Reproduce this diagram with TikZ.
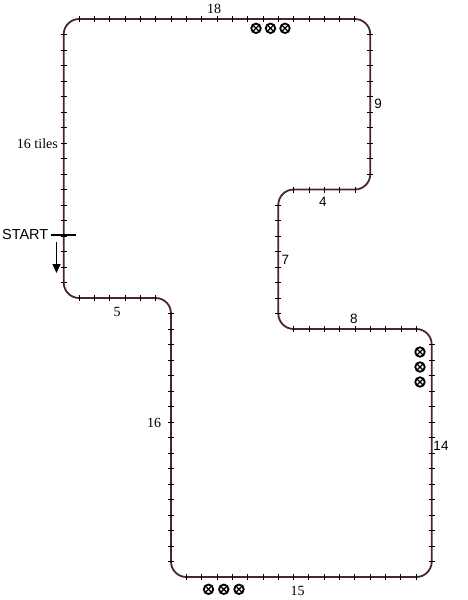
\documentclass[tikz,border=0pt]{standalone}
\usepackage{fontspec}
\setmainfont{Liberation Serif}
\setsansfont{Liberation Sans}
\usetikzlibrary{arrows.meta}
\definecolor{track}{RGB}{75,35,50}
\newcommand{\hticks}[4]{\foreach \i in {0,...,#4} \draw[tick] ({#2+\i*#3},{#1-3}) -- ({#2+\i*#3},{#1+3});}
\newcommand{\vticks}[4]{\foreach \i in {0,...,#4} \draw[tick] ({#1-3},{#2+\i*#3}) -- ({#1+3},{#2+\i*#3});}
\tikzset{
  tick/.style={black, line width=0.9pt},
  trackline/.style={track, line width=1.8pt, rounded corners=15.4pt},
  xc/.style={circle, draw=black, line width=1.8pt, minimum size=9.5pt, inner sep=0pt,
    path picture={\draw[line width=1.3pt] (path picture bounding box.center) ++(-2.8pt,-2.8pt) -- ++(5.6pt,5.6pt)
      (path picture bounding box.center) ++(-2.8pt,2.8pt) -- ++(5.6pt,-5.6pt);}},
  serifnum/.style={inner sep=0pt, font=\fontsize{14}{16}\selectfont},
  sansnum/.style={inner sep=0pt, font=\sffamily\fontsize{13.5}{16}\selectfont},
}
\begin{document}
\begin{tikzpicture}[x=1pt, y=-1pt]
\useasboundingbox (0,0) rectangle (468,600);
% track
\draw[trackline] (63.7,160) -- (63.7,19) -- (370.3,19) -- (370.3,189.5) -- (278.3,189.5)
  -- (278.3,329) -- (431.7,329) -- (431.7,577) -- (171,577) -- (171,298) -- (63.7,298) -- cycle;
% tile ticks
\hticks{19}{79}{15.33}{18}
\vticks{370.3}{34.5}{15.5}{9}
\hticks{189.5}{293.7}{15.33}{4}
\vticks{278.3}{205}{15.5}{7}
\hticks{329}{293.7}{15.33}{8}
\vticks{431.7}{344.5}{15.5}{14}
\hticks{577}{186.3}{15.33}{15}
\vticks{171}{313.5}{15.5}{16}
\hticks{298}{79}{15.33}{5}
\vticks{63.7}{34.5}{15.5}{16}
% crossed circles
\node[xc] (t1) at (256,28.3) {};
\node[xc] (t2) at (270.5,28.3) {};
\node[xc] (t3) at (285,28.3) {};
\node[xc] (r1) at (420,352) {};
\node[xc] (r2) at (420,367) {};
\node[xc] (r3) at (420,382) {};
\node[xc] (b1) at (208.5,589.3) {};
\node[xc] (b2) at (223.8,589.3) {};
\node[xc] (b3) at (239,589.3) {};
% labels
\node[serifnum] (l18) at (214,8.5) {18};
\node[sansnum] (l9) at (378,104) {9};
\node[serifnum, anchor=east] (ltiles) at (58,144) {16 tiles};
\node[sansnum] (l4) at (323,202) {4};
\node[sansnum] (l7) at (285.5,260) {7};
\node[sansnum] (l8) at (354,319) {8};
\node[sansnum] (l14) at (441,445.5) {14};
\node[serifnum] (l16) at (154,423) {16};
\node[serifnum] (l5) at (117,311.5) {5};
\node[serifnum] (l15) at (297.5,591) {15};
% start
\node[inner sep=0pt, anchor=east, font=\sffamily\fontsize{14.5}{16}\selectfont] (start) at (48.5,235) {START};
\coordinate (barL) at (50.5,235);
\coordinate (barR) at (76,235);
\draw[black, line width=2.6pt] (barL) -- (barR);
\coordinate (arrS) at (56.5,242);
\coordinate (arrE) at (56.5,273);
\draw[black, line width=1pt, -{Triangle[length=9pt, width=8pt]}] (arrS) -- (arrE);
\end{tikzpicture}
\end{document}
